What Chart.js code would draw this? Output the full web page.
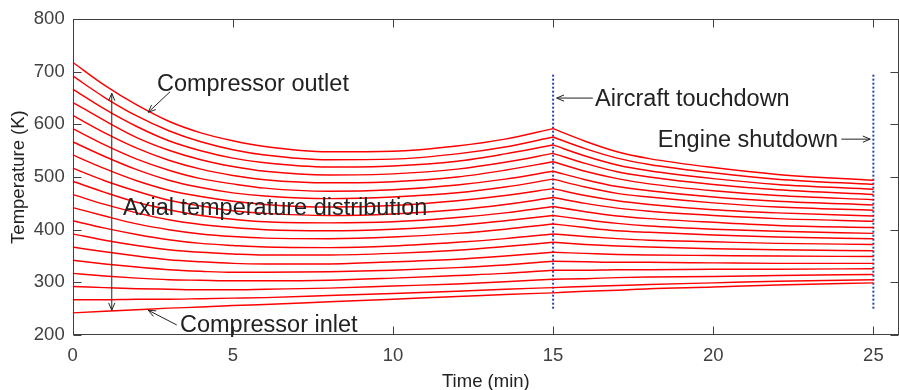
<!DOCTYPE html>
<html>
<head>
<meta charset="utf-8">
<script src="https://cdn.jsdelivr.net/npm/chart.js@4/dist/chart.umd.min.js"></script>
<style>
  html, body { margin: 0; padding: 0; background: #fff; }
  #chart { display: block; }
</style>
</head>
<body>
<canvas id="chart" width="899" height="390"></canvas>
<script>
// time axis (min) shared by every curve, 15 = aircraft touchdown
const times = [0, 1, 2, 3, 4, 5, 6, 8, 10, 12, 13.5, 15, 16, 17, 18, 20, 22, 25];
const touchdown = 15;

// temperature (K) per axial position, inlet first, outlet last
const stage01 = [242, 245, 248, 251, 253, 256, 258, 263, 268, 273, 277, 280, 283, 285, 288, 291, 295, 299];
const stage02 = [267, 267, 268, 268, 269, 270, 271, 275, 279, 283, 287, 290, 292, 294, 296, 299, 302, 305];
const stage03 = [292, 290, 288, 287, 286, 286, 287, 289, 293, 297, 301, 306, 307, 309, 310, 311, 313, 315];
const stage04 = [317, 312, 308, 305, 304, 303, 303, 304, 308, 313, 317, 323, 323, 324, 324, 325, 325, 326];
const stage05 = [342, 335, 329, 324, 321, 319, 319, 320, 323, 328, 333, 340, 339, 338, 338, 337, 336, 336];
const stage06 = [367, 358, 350, 343, 339, 336, 335, 335, 339, 344, 350, 357, 355, 353, 352, 351, 350, 349];
const stage07 = [392, 380, 370, 362, 357, 354, 352, 352, 355, 361, 368, 376, 372, 369, 367, 364, 362, 360];
const stage08 = [417, 403, 391, 381, 374, 370, 367, 366, 369, 376, 383, 392, 387, 383, 380, 377, 374, 372];
const stage09 = [442, 426, 411, 400, 392, 387, 384, 383, 386, 393, 401, 411, 404, 398, 395, 390, 386, 383];
const stage10 = [467, 448, 432, 419, 410, 404, 400, 398, 401, 408, 417, 427, 419, 412, 407, 401, 397, 393];
const stage11 = [492, 471, 452, 438, 427, 420, 415, 413, 415, 423, 432, 444, 434, 426, 421, 414, 408, 404];
const stage12 = [517, 493, 473, 456, 445, 436, 431, 427, 430, 438, 448, 461, 450, 441, 435, 427, 421, 416];
const stage13 = [542, 516, 493, 475, 463, 454, 448, 443, 446, 455, 465, 478, 465, 455, 448, 438, 432, 426];
const stage14 = [567, 539, 514, 494, 480, 470, 464, 459, 462, 470, 481, 496, 481, 469, 462, 451, 443, 437];
const stage15 = [592, 561, 534, 513, 497, 487, 479, 473, 476, 485, 496, 511, 495, 482, 474, 462, 454, 447];
const stage16 = [617, 584, 555, 532, 515, 503, 495, 489, 491, 500, 513, 529, 511, 497, 487, 474, 465, 457];
const stage17 = [642, 607, 575, 551, 533, 520, 511, 504, 506, 515, 528, 545, 526, 510, 500, 486, 476, 467];
const stage18 = [667, 629, 596, 569, 550, 536, 527, 519, 521, 530, 544, 561, 540, 523, 512, 497, 486, 477];
const stage19 = [692, 651, 616, 588, 567, 552, 542, 533, 534, 544, 557, 576, 554, 536, 524, 508, 496, 486];
const stage20 = [718, 674, 637, 606, 584, 569, 558, 548, 549, 559, 572, 592, 568, 548, 535, 518, 505, 494];

const stages = [stage01, stage02, stage03, stage04, stage05, stage06, stage07, stage08, stage09, stage10,
                stage11, stage12, stage13, stage14, stage15, stage16, stage17, stage18, stage19, stage20];

// dotted event markers (touchdown, shutdown)
const eventTimes = [15, 25];
const eventRange = [250, 697];

const xTicks = [0, 5, 10, 15, 20, 25];
const yTicks = [200, 300, 400, 500, 600, 700, 800];

const FONT = '"Liberation Sans", Arial, Helvetica, sans-serif';
const AXIS_COLOR = '#404040';
const TEXT_COLOR = '#222222';

function curve(points) {
    return {
        data: points,
        borderColor: '#ff0000',
        borderWidth: 1.45,
        pointRadius: 0,
        cubicInterpolationMode: 'monotone',
        fill: false
    };
}

const datasets = [];
stages.forEach(vals => {
    const pts = times.map((t, k) => ({ x: t, y: vals[k] }));
    // split at touchdown so the kink stays sharp
    datasets.push(curve(pts.filter(p => p.x <= touchdown)));
    datasets.push(curve(pts.filter(p => p.x >= touchdown)));
});
eventTimes.forEach(t => {
    datasets.push({
        data: eventRange.map(v => ({ x: t, y: v })),
        borderColor: '#2444b0',
        borderWidth: 2,
        borderDash: [2, 2],
        pointRadius: 0,
        fill: false
    });
});

// arrow helper, head at (x2, y2)
function arrow(ctx, x1, y1, x2, y2, both) {
    const head = (ax, ay, bx, by) => {
        const ang = Math.atan2(by - ay, bx - ax);
        const len = 8, spread = 0.4;
        ctx.beginPath();
        ctx.moveTo(bx - len * Math.cos(ang - spread), by - len * Math.sin(ang - spread));
        ctx.lineTo(bx, by);
        ctx.lineTo(bx - len * Math.cos(ang + spread), by - len * Math.sin(ang + spread));
        ctx.stroke();
    };
    ctx.beginPath();
    ctx.moveTo(x1, y1);
    ctx.lineTo(x2, y2);
    ctx.stroke();
    head(x1, y1, x2, y2);
    if (both) head(x2, y2, x1, y1);
}

const decor = {
    id: 'decor',
    afterDatasetsDraw(chart) {
        const { ctx, chartArea: a, scales: { x, y } } = chart;
        ctx.save();

        // box + inward ticks (matlab style)
        ctx.strokeStyle = AXIS_COLOR;
        ctx.lineWidth = 1;
        const L = Math.round(a.left) + 0.5, R = Math.round(a.right) - 0.5;
        const T = Math.round(a.top) + 0.5, B = Math.round(a.bottom) - 0.5;
        ctx.strokeRect(L, T, R - L, B - T);
        ctx.beginPath();
        xTicks.forEach(v => {
            const px = Math.round(x.getPixelForValue(v)) + 0.5;
            ctx.moveTo(px, B); ctx.lineTo(px, B - 8);
            ctx.moveTo(px, T); ctx.lineTo(px, T + 8);
        });
        yTicks.forEach(v => {
            const py = Math.round(y.getPixelForValue(v)) + 0.5;
            ctx.moveTo(L, py); ctx.lineTo(L + 8, py);
            ctx.moveTo(R, py); ctx.lineTo(R - 8, py);
        });
        ctx.stroke();

        // axis titles
        ctx.fillStyle = TEXT_COLOR;
        ctx.font = '18.5px ' + FONT;
        ctx.textAlign = 'center';
        ctx.textBaseline = 'middle';
        ctx.fillText('Time (min)', (a.left + a.right) / 2, 382);
        ctx.save();
        ctx.translate(19, (a.top + a.bottom) / 2);
        ctx.rotate(-Math.PI / 2);
        ctx.fillText('Temperature (K)', 0, 0);
        ctx.restore();

        // annotations
        const px = v => x.getPixelForValue(v);
        const py = v => y.getPixelForValue(v);
        ctx.font = '23.5px ' + FONT;
        ctx.textBaseline = 'alphabetic';
        ctx.textAlign = 'left';
        ctx.fillText('Compressor outlet', px(2.63), py(664));
        ctx.fillText('Compressor inlet', px(3.35), py(206));
        ctx.fillText('Axial temperature distribution', px(1.57), py(428));
        ctx.fillText('Aircraft touchdown', px(16.31), py(634));
        ctx.textAlign = 'right';
        ctx.fillText('Engine shutdown', px(23.9), py(558));

        ctx.strokeStyle = TEXT_COLOR;
        ctx.lineWidth = 1;
        arrow(ctx, px(3.04), py(662), px(2.36), py(623));
        arrow(ctx, px(3.25), py(219), px(2.36), py(247));
        arrow(ctx, px(1.22), py(247), px(1.22), py(659), true);
        arrow(ctx, px(16.24), py(650), px(15.11), py(650));
        arrow(ctx, px(24.0), py(572), px(24.9), py(572));

        ctx.restore();
    }
};

new Chart(document.getElementById('chart'), {
    type: 'line',
    data: { datasets: datasets },
    options: {
        responsive: false,
        animation: false,
        devicePixelRatio: 1,
        layout: { padding: { top: 17, left: 0, right: 0, bottom: 0 } },
        plugins: {
            legend: { display: false },
            tooltip: { enabled: false }
        },
        scales: {
            x: {
                type: 'linear',
                min: 0,
                max: 25.8,
                grid: { display: false, drawTicks: false },
                border: { display: false },
                ticks: { color: AXIS_COLOR, font: { family: FONT, size: 18.5 }, padding: 10, maxRotation: 0 },
                afterBuildTicks: s => { s.ticks = xTicks.map(v => ({ value: v })); },
                afterFit: s => { s.height = 55; }
            },
            y: {
                type: 'linear',
                min: 200,
                max: 800,
                grid: { display: false, drawTicks: false },
                border: { display: false },
                ticks: { color: AXIS_COLOR, font: { family: FONT, size: 18.5 }, padding: 8 },
                afterBuildTicks: s => { s.ticks = yTicks.map(v => ({ value: v })); },
                afterFit: s => { s.width = 72.7; }
            }
        }
    },
    plugins: [decor]
});
</script>
</body>
</html>
